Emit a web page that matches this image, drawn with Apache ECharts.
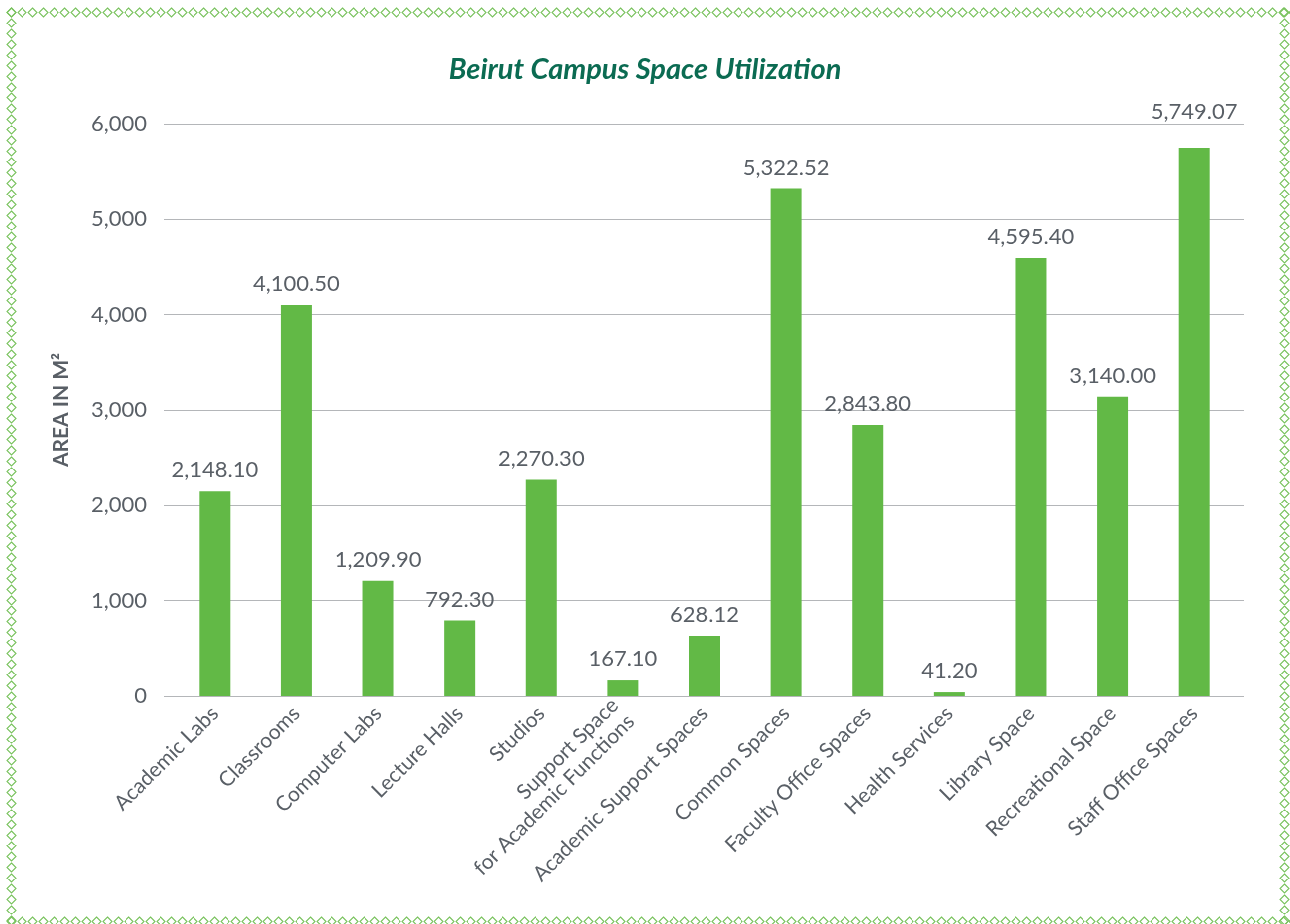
<!DOCTYPE html>
<html>
<head>
<meta charset="utf-8">
<script src="https://cdn.jsdelivr.net/npm/echarts@6/dist/echarts.min.js"></script>
<style>
  body { margin: 0; background: #fff; }
  #chart { width: 1290px; height: 924px; }
  .edge {
    position: absolute;
    pointer-events: none;
    background-image: url("data:image/svg+xml;utf8,<svg xmlns='http://www.w3.org/2000/svg' width='11' height='11'><path d='M5.5 1 L10 5.5 L5.5 10 L1 5.5 Z' fill='none' stroke='%2378c25c' stroke-width='1.1'/></svg>");
    background-size: 10.7px 11px;
  }
</style>
</head>
<body>
<div id="chart"></div>
<!-- decorative diamond border -->
<div class="edge" style="left:6px;top:7px;width:1284px;height:11px;background-repeat:repeat-x"></div>
<div class="edge" style="left:6px;top:7px;width:11px;height:917px;background-repeat:repeat-y;background-size:11px 10.7px"></div>
<div class="edge" style="left:1279px;top:7px;width:11px;height:917px;background-repeat:repeat-y;background-size:11px 10.7px"></div>
<div class="edge" style="left:6px;top:916px;width:1284px;height:11px;background-repeat:repeat-x"></div>
<script>
const categories = [
  'Academic Labs',
  'Classrooms',
  'Computer Labs',
  'Lecture Halls',
  'Studios',
  'Support Space\nfor Academic Functions',
  'Academic Support Spaces',
  'Common Spaces',
  'Faculty Office Spaces',
  'Health Services',
  'Library Space',
  'Recreational Space',
  'Staff Office Spaces'
]
const areaValues = [2148.10, 4100.50, 1209.90, 792.30, 2270.30, 167.10, 628.12, 5322.52, 2843.80, 41.20, 4595.40, 3140.00, 5749.07]
const yMin = 0
const yMax = 6000
const yStep = 1000

const fontFamily = 'Lato, "Open Sans", sans-serif'
const textGray = '#595f66'

const chart = echarts.init(document.getElementById('chart'))

const fmt = (v) => v.toLocaleString('en-US', { minimumFractionDigits: 2, maximumFractionDigits: 2 })

// the top label sits higher so it clears the 6,000 gridline
const barData = areaValues.map((v) => {
  if (v > yMax - 300) {
    return { value: v, label: { distance: 25 } }
  }
  return v
})

const option = {
  animation: false,
  title: {
    text: 'Beirut Campus Space Utilization',
    left: 'center',
    top: 50,
    textStyle: {
      fontFamily: fontFamily,
      fontSize: 29,
      fontStyle: 'italic',
      fontWeight: 'bold',
      color: '#0b6b52'
    }
  },
  grid: [
    // bars
    { left: 174, right: 55, top: 124, bottom: 228 },
    // gridlines, slightly wider than the bar band
    { left: 164, right: 46, top: 124, bottom: 228 }
  ],
  xAxis: [
    {
      type: 'category',
      gridIndex: 0,
      data: categories,
      axisLine: { show: false },
      axisTick: { show: false },
      axisLabel: {
        interval: 0,
        rotate: 45,
        margin: 14,
        fontFamily: fontFamily,
        fontSize: 21,
        lineHeight: 23,
        color: textGray
      }
    },
    {
      type: 'value',
      gridIndex: 1,
      show: false
    }
  ],
  yAxis: [
    {
      type: 'value',
      gridIndex: 0,
      min: yMin,
      max: yMax,
      interval: yStep,
      show: false
    },
    {
      type: 'value',
      gridIndex: 1,
      min: yMin,
      max: yMax,
      interval: yStep,
      name: 'AREA IN M²',
      nameLocation: 'middle',
      nameGap: 92,
      nameRotate: 90,
      nameTextStyle: {
        fontFamily: fontFamily,
        fontSize: 21,
        fontWeight: 'bold',
        color: textGray
      },
      axisLine: { show: false },
      axisTick: { show: false },
      axisLabel: {
        margin: 17,
        fontFamily: fontFamily,
        fontSize: 22,
        color: textGray,
        formatter: (v) => v.toLocaleString('en-US')
      },
      splitLine: {
        lineStyle: { color: '#b4b6b9', width: 1.2 }
      }
    }
  ],
  series: [
    {
      name: 'Area',
      type: 'bar',
      xAxisIndex: 0,
      yAxisIndex: 0,
      data: barData,
      barWidth: 31,
      z: 3,
      itemStyle: { color: '#62b946' },
      label: {
        show: true,
        position: 'top',
        distance: 10,
        fontFamily: fontFamily,
        fontSize: 22,
        color: textGray,
        formatter: (p) => fmt(p.value)
      }
    }
  ]
}

chart.setOption(option)
</script>
</body>
</html>
